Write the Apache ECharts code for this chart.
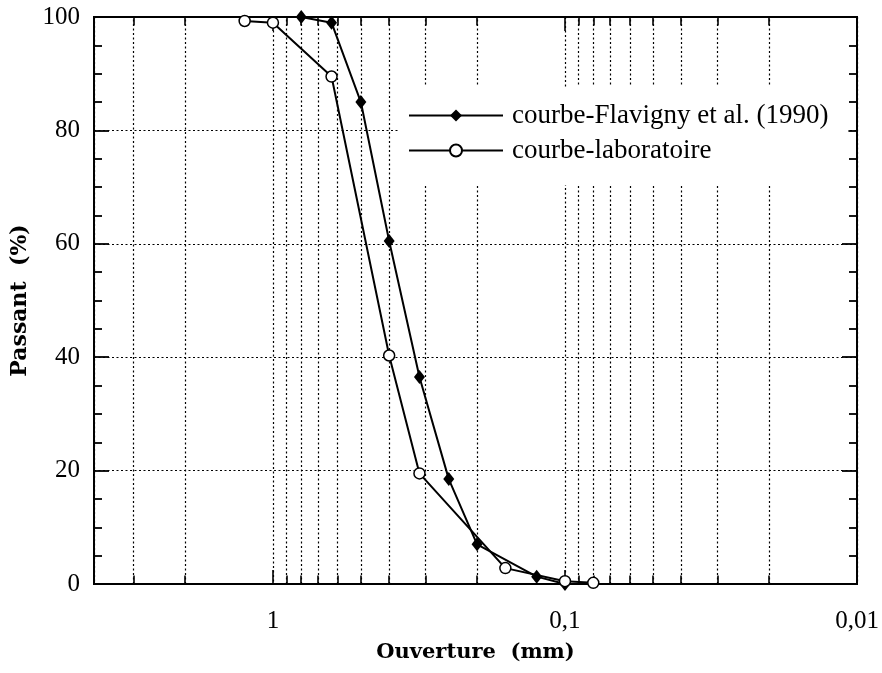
<!DOCTYPE html>
<html><head><meta charset="utf-8">
<script src="https://cdn.jsdelivr.net/npm/echarts@6/dist/echarts.min.js"></script>
<style>html,body{margin:0;padding:0;background:#fff}#c{width:882px;height:673px}</style>
</head><body><div id="c"></div>
<script>
// ---- data ----
const flavX = [0.8, 0.63, 0.5, 0.4, 0.315, 0.25, 0.2, 0.125, 0.1];
const flavY = [100, 99, 85, 60.5, 36.5, 18.5, 7, 1.3, 0];
const labX = [1.25, 1, 0.63, 0.4, 0.315, 0.16, 0.1, 0.08];
const labY = [99.3, 99, 89.5, 40.3, 19.5, 2.8, 0.5, 0.2];
const seriesNames = ['courbe-Flavigny et al. (1990)', 'courbe-laboratoire'];
const xTickValues = [1, 0.1, 0.01];
const xTickLabels = ['1', '0,1', '0,01'];
const xMinorGrid = [3, 2, 0.9, 0.8, 0.7, 0.6, 0.5, 0.4, 0.3, 0.2,
                    0.09, 0.08, 0.07, 0.06, 0.05, 0.04, 0.03, 0.02];
const xMin = 0.01, xMax = 4.1;
const yMin = 0, yMax = 100, yStep = 20;
const xName = 'Ouverture  (mm)';
const yName = 'Passant  (%)';

const FONT = '"Liberation Serif", "Times New Roman", serif';
const TFONT = '"DejaVu Serif", "Liberation Serif", serif';
const chart = echarts.init(document.getElementById('c'), null, {renderer: 'canvas'});

function xLabel(v) {
  for (let i = 0; i < xTickValues.length; i++) {
    if (Math.abs(v - xTickValues[i]) / xTickValues[i] < 1e-6) return xTickLabels[i];
  }
  return '';
}

const dotted = {color: '#000', width: 1.2, type: [2, 2.5]};
const minorLines = [];
xMinorGrid.forEach(v => {
  minorLines.push({xAxis: v, lineStyle: dotted});
  minorLines.push([{coord: [v, yMin], lineStyle: {color: '#000', width: 1.6, type: 'solid'}}, {coord: [v, yMin + 1.5]}]);
  minorLines.push([{coord: [v, yMax - 1.5], lineStyle: {color: '#000', width: 1.6, type: 'solid'}}, {coord: [v, yMax]}]);
});

const baseX = {
  type: 'log', logBase: 10, min: xMin, max: xMax, inverse: true,
  axisLine: {show: false, onZero: false},
  axisTick: {show: true, inside: true, length: 14, lineStyle: {color: '#000', width: 1.6}},
  splitLine: {show: false}
};
const baseY = {
  type: 'value', min: yMin, max: yMax, interval: yStep,
  axisLine: {show: false, onZero: false},
  axisTick: {show: true, inside: true, length: 15, lineStyle: {color: '#000', width: 1.8}},
  minorTick: {show: true, splitNumber: 4, length: 8, lineStyle: {color: '#000', width: 1.8}},
  splitLine: {show: false}
};

chart.setOption({
  animation: false,
  backgroundColor: '#fff',
  textStyle: {fontFamily: FONT},
  grid: {left: 94, right: 25, top: 17, bottom: 89, show: true, borderColor: '#000', borderWidth: 2, backgroundColor: 'transparent'},
  xAxis: [
    Object.assign({}, baseX, {
      position: 'bottom',
      axisLabel: {show: true, formatter: xLabel, color: '#000', fontSize: 25, fontFamily: FONT, margin: 25},
      splitLine: {show: true, lineStyle: dotted},
      name: xName, nameLocation: 'middle', nameGap: 58,
      nameTextStyle: {color: '#000', fontSize: 21, fontWeight: 'bold', fontFamily: TFONT}
    }),
    Object.assign({}, baseX, {position: 'top', axisLabel: {show: false}})
  ],
  yAxis: [
    Object.assign({}, baseY, {
      position: 'left',
      axisLabel: {show: true, color: '#000', fontSize: 25, fontFamily: FONT, margin: 14},
      splitLine: {show: true, lineStyle: dotted},
      name: yName, nameLocation: 'middle', nameGap: 60, nameRotate: 90,
      nameTextStyle: {color: '#000', fontSize: 22, fontWeight: 'bold', fontFamily: TFONT}
    }),
    Object.assign({}, baseY, {position: 'right', axisLabel: {show: false}})
  ],
  legend: {
    data: seriesNames,
    orient: 'vertical',
    left: 398, top: 87, z: 10,
    padding: [15, 20, 21, 10],
    backgroundColor: '#fff',
    itemWidth: 94, itemHeight: 15, itemGap: 8,
    textStyle: {color: '#000', fontSize: 27, fontFamily: FONT, lineHeight: 27, padding: [0, 0, 0, 4]},
    selectedMode: false
  },
  series: [
    {
      name: 'grid', type: 'line', data: [], silent: true, z: 1,
      markLine: {silent: true, symbol: 'none', z: 1, label: {show: false}, animation: false, data: minorLines}
    },
    {
      name: seriesNames[0], type: 'line', z: 3,
      data: flavX.map((x, i) => [x, flavY[i]]),
      symbol: 'diamond', symbolSize: [11, 14],
      itemStyle: {color: '#000'},
      lineStyle: {color: '#000', width: 2}
    },
    {
      name: seriesNames[1], type: 'line', z: 4,
      data: labX.map((x, i) => [x, labY[i]]),
      symbol: 'circle', symbolSize: 11,
      itemStyle: {color: '#fff', borderColor: '#000', borderWidth: 1.5},
      lineStyle: {color: '#000', width: 2}
    }
  ]
});
</script>
</body></html>
